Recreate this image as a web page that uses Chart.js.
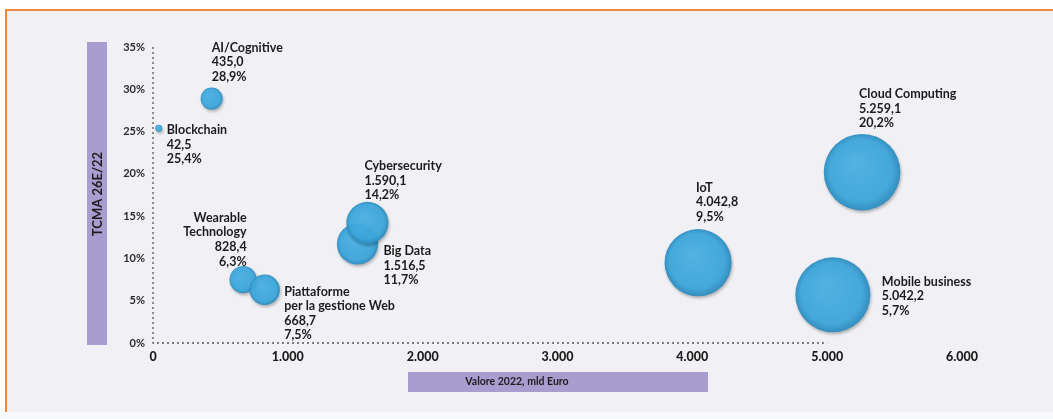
<!DOCTYPE html>
<html>
<head>
<meta charset="utf-8">
<script src="https://cdn.jsdelivr.net/npm/chart.js@4.4.1/dist/chart.umd.min.js"></script>
<style>
  html, body { margin: 0; padding: 0; background: #f7f8fb; }
  #wrap { position: relative; width: 1053px; height: 419px; overflow: hidden; background: #ffffff; }
  #frame { position: absolute; left: 5px; top: 9px; width: 1048px; height: 401px;
           border-top: 2px solid #f0883a; border-left: 2px solid #f0883a;
           border-bottom: 1px solid #f5ded2; background: #f1f1f5; }
  #below { position: absolute; left: 0; top: 412px; width: 1053px; height: 7px; background: #f6f8fc; }
  canvas { position: absolute; left: 0; top: 0; }
</style>
</head>
<body>
<div id="wrap">
  <div id="frame"></div>
  <div id="below"></div>
  <canvas id="c" width="1053" height="419"></canvas>
</div>
<script>
// ---- data ----
const categories = ['Blockchain', 'AI/Cognitive', 'Piattaforme\nper la gestione Web', 'Wearable\nTechnology',
                    'Big Data', 'Cybersecurity', 'IoT', 'Mobile business', 'Cloud Computing'];
const values2022 = [42.5, 435.0, 668.7, 828.4, 1516.5, 1590.1, 4042.8, 5042.2, 5259.1];
const cagr = [25.4, 28.9, 7.5, 6.3, 11.7, 14.2, 9.5, 5.7, 20.2];
const xTickLabels = ['0', '1.000', '2.000', '3.000', '4.000', '5.000', '6.000'];
const yTickLabels = ['0%', '5%', '10%', '15%', '20%', '25%', '30%', '35%'];

// ---- label placement (style only) ----
const labelStyle = [
  { dx: 8,   dy: 2,   align: 'left'  },
  { dx: 0,   dy: -51, align: 'left'  },
  { dx: 41,  dy: 12,  align: 'left'  },
  { dx: -18, dy: -72, align: 'right' },
  { dx: 26,  dy: 7,   align: 'left'  },
  { dx: -3,  dy: -57, align: 'left'  },
  { dx: -2,  dy: -75, align: 'left'  },
  { dx: 49,  dy: -13, align: 'left'  },
  { dx: -3,  dy: -78, align: 'left'  }
];

function fmtIt(v, dec) {
  const s = v.toFixed(dec);
  let [i, d] = s.split('.');
  i = i.replace(/\B(?=(\d{3})+(?!\d))/g, '.');
  return d !== undefined ? i + ',' + d : i;
}

const FONT = "Lato, 'DejaVu Sans', sans-serif";

const points = values2022.map((v, i) => ({ x: v, y: cagr[i] }));

const labelsPlugin = {
  id: 'bubbleLabels',
  afterDatasetsDraw(chart) {
    const ctx = chart.ctx;
    const meta = chart.getDatasetMeta(0);
    ctx.save();
    ctx.fillStyle = '#1c1c1c';
    ctx.font = "700 12.5px " + FONT;
    ctx.textBaseline = 'middle';
    meta.data.forEach((el, i) => {
      const st = labelStyle[i];
      const lines = categories[i].split('\n').concat([fmtIt(values2022[i], 1), fmtIt(cagr[i], 1) + '%']);
      ctx.textAlign = st.align;
      lines.forEach((ln, k) => {
        ctx.fillText(ln, el.x + st.dx, el.y + st.dy + k * 14.6);
      });
    });
    ctx.restore();
  }
};

const axesPlugin = {
  id: 'decor',
  beforeDatasetsDraw(chart) {
    const ctx = chart.ctx;
    const xs = chart.scales.x, ys = chart.scales.y;
    ctx.save();
    ctx.strokeStyle = '#555';
    ctx.lineWidth = 1.3;
    ctx.setLineDash([2, 3]);
    const x0 = xs.getPixelForValue(0), y0 = ys.getPixelForValue(0);
    ctx.beginPath();
    ctx.moveTo(x0, ys.getPixelForValue(35));
    ctx.lineTo(x0, y0);
    ctx.lineTo(xs.getPixelForValue(5000), y0);
    ctx.stroke();
    ctx.setLineDash([]);
    // axis title boxes
    ctx.fillStyle = '#a99dd0';
    ctx.fillRect(87, 42, 20, 303);
    ctx.fillRect(408, 372, 300, 20);
    ctx.fillStyle = '#1c1c1c';
    ctx.font = "700 10.5px " + FONT;
    ctx.textAlign = 'center';
    ctx.textBaseline = 'middle';
    ctx.fillText('Valore 2022, mld Euro', 517, 382);
    ctx.translate(97, 194);
    ctx.rotate(-Math.PI / 2);
    ctx.font = "700 13px " + FONT;
    ctx.fillText('TCMA 26E/22', 0, 1);
    ctx.restore();
    // shadow for bubbles
    ctx.save();
    ctx.shadowColor = 'rgba(0,0,0,0.28)';
    ctx.shadowBlur = 3;
    ctx.shadowOffsetX = 1;
    ctx.shadowOffsetY = 2;
  },
  afterDatasetsDraw(chart) {
    chart.ctx.restore();
  }
};

function bubbleFill(ctx) {
  const ch = ctx.chart;
  const flat = 'rgba(60,167,221,0.93)';
  if (!ch.scales || !ch.scales.x || !ch.scales.y || !ctx.raw) return flat;
  const cx = ch.scales.x.getPixelForValue(ctx.raw.x);
  const cy = ch.scales.y.getPixelForValue(ctx.raw.y);
  const r = 0.528 * Math.sqrt(ctx.raw.x);
  if (!isFinite(cx) || !isFinite(cy) || !isFinite(r) || r <= 0) return flat;
  const g = ch.ctx.createRadialGradient(cx - r * 0.2, cy - r * 0.25, r * 0.05, cx, cy, r);
  g.addColorStop(0, 'rgba(72,178,230,0.93)');
  g.addColorStop(0.8, 'rgba(60,167,221,0.93)');
  g.addColorStop(1, 'rgba(44,140,190,0.95)');
  return g;
}

new Chart(document.getElementById('c'), {
  type: 'bubble',
  data: {
    datasets: [{
      data: points,
      backgroundColor: bubbleFill,
      borderWidth: 0,
      borderColor: 'rgba(0,0,0,0)',
      radius: ctx => 0.528 * Math.sqrt(ctx.raw ? ctx.raw.x : 0),
      hoverRadius: 0
    }]
  },
  options: {
    responsive: false,
    devicePixelRatio: 1,
    animation: false,
    events: [],
    layout: { padding: { left: 0, top: 47, right: 91, bottom: 0 } },
    plugins: { legend: { display: false }, tooltip: { enabled: false } },
    scales: {
      x: {
        type: 'linear', min: 0, max: 6000,
        afterFit: s => { s.height = 76; },
        grid: { display: false, drawTicks: false },
        border: { display: false },
        ticks: {
          stepSize: 1000, padding: 6, color: '#1c1c1c',
          font: { family: FONT, size: 12.5, weight: '900' },
          callback: (v, i) => xTickLabels[i]
        }
      },
      y: {
        type: 'linear', min: 0, max: 35,
        afterFit: s => { s.width = 153; },
        grid: { display: false, drawTicks: false },
        border: { display: false },
        ticks: {
          stepSize: 5, padding: 8, color: '#2a2a2a',
          font: { family: FONT, size: 11, weight: '700' },
          callback: (v, i) => yTickLabels[i]
        }
      }
    }
  },
  plugins: [axesPlugin, labelsPlugin]
});
</script>
</body>
</html>
